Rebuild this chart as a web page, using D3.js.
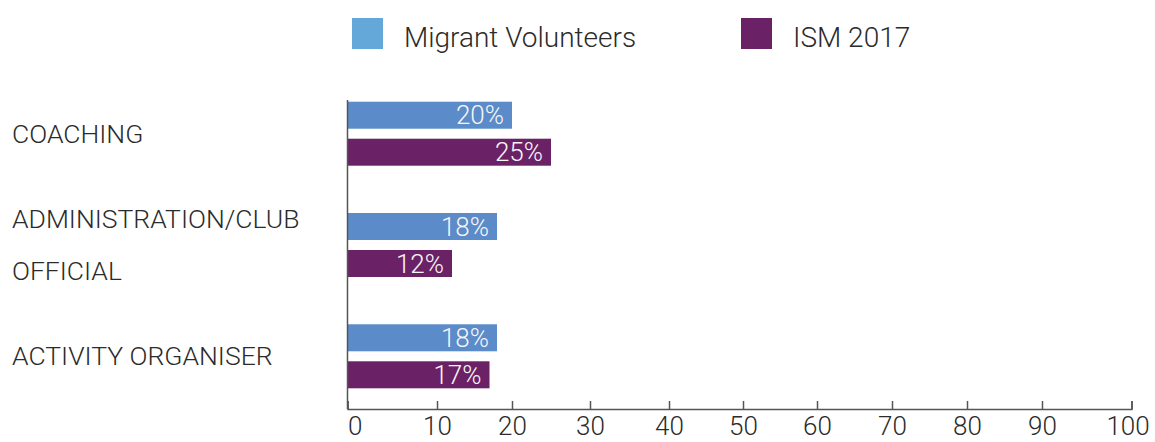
<!DOCTYPE html>
<html>
<head>
<meta charset="utf-8">
<script src="https://cdn.jsdelivr.net/npm/d3@7"></script>
<style>
  body { margin: 0; background: #fff; }
  text { font-family: Roboto, "Liberation Sans", sans-serif; font-weight: 300; }
  .axis path, .axis line { stroke: #555; stroke-width: 1.5; }
  .axis text { fill: #2b2b2b; font-size: 26px; }
</style>
</head>
<body>
<div id="chart"></div>
<script>

// data
var categories = ["COACHING", "ADMINISTRATION/CLUB OFFICIAL", "ACTIVITY ORGANISER"];
var categoryLines = [["COACHING"], ["ADMINISTRATION/CLUB", "OFFICIAL"], ["ACTIVITY ORGANISER"]];
var seriesNames = ["Migrant Volunteers", "ISM 2017"];
var migrantValues = [20, 18, 18];
var ismValues = [25, 12, 17];
var xTicks = [0, 10, 20, 30, 40, 50, 60, 70, 80, 90, 100];

var width = 1155;
var height = 442;

var barColors = ["#5b8bc9", "#6b2166"];
var legendColors = ["#64a8da", "#6b2166"];

var svg = d3.select("#chart")
  .append("svg")
    .attr("width", width)
    .attr("height", height);

var axisY = 409;

// the original axis is not evenly spaced, so follow its ticks
var x = d3.scaleLinear()
    .domain(xTicks)
    .range([347.5, 437, 512, 590, 669, 743, 817, 892, 967, 1042, 1131.5]);

var y0 = d3.scaleBand()
    .domain(categories)
    .range([101.7, 388.3])
    .paddingInner(0.425)
    .paddingOuter(0);

var y1 = d3.scaleBand()
    .domain(seriesNames)
    .range([0, y0.bandwidth()])
    .paddingInner(10 / 37);

var rows = categories.map(function(c, i) {
  return {cat: c, lines: categoryLines[i], values: [migrantValues[i], ismValues[i]]};
});

// category labels
var lineGap = 52;
svg.append("g").selectAll("text")
  .data(rows)
  .join("text")
    .attr("x", 12)
    .attr("fill", "#2b2b2b")
    .style("font-size", "26.5px")
    .each(function(d) {
      var mid = y0(d.cat) + y0.bandwidth() / 2 + 9;
      var n = d.lines.length;
      d3.select(this).selectAll("tspan")
        .data(d.lines)
        .join("tspan")
          .attr("x", 12)
          .attr("y", function(l, k) { return mid + (k - (n - 1) / 2) * lineGap; })
          .text(function(l) { return l; });
    });

// bars
var group = svg.append("g").selectAll("g")
  .data(rows)
  .join("g")
    .attr("transform", function(d) { return "translate(0," + y0(d.cat) + ")"; });

var cells = group.selectAll("g")
  .data(function(d) {
    return d.values.map(function(v, j) { return {name: seriesNames[j], value: v, j: j}; });
  })
  .join("g");

cells.append("rect")
    .attr("x", x(0))
    .attr("y", function(d) { return y1(d.name); })
    .attr("width", function(d) { return x(d.value) - x(0); })
    .attr("height", y1.bandwidth())
    .attr("fill", function(d) { return barColors[d.j]; });

cells.append("text")
    .attr("x", function(d) { return x(d.value) - 8; })
    .attr("y", function(d) { return y1(d.name) + y1.bandwidth() / 2; })
    .attr("dy", "0.35em")
    .attr("text-anchor", "end")
    .attr("fill", "#f6f6f6")
    .style("font-size", "26px")
    .text(function(d) { return d.value + "%"; });

// x axis
var xAxis = svg.append("g")
    .attr("class", "axis")
    .attr("transform", "translate(0," + axisY + ")")
    .call(d3.axisBottom(x)
      .tickValues(xTicks)
      .tickSizeInner(-8)
      .tickSizeOuter(-8)
      .tickPadding(8));

xAxis.selectAll(".tick text")
    .filter(function(d) { return d === 0; })
    .attr("text-anchor", "start")
    .attr("x", 0);
xAxis.selectAll(".tick text")
    .filter(function(d) { return d === 100; })
    .attr("dx", -4);

// vertical base line
svg.append("line")
    .attr("x1", x(0)).attr("x2", x(0))
    .attr("y1", 100).attr("y2", axisY)
    .attr("stroke", "#555")
    .attr("stroke-width", 1.5);

// legend
var legendX = [352, 741];
var legend = svg.append("g").selectAll("g")
  .data(seriesNames)
  .join("g")
    .attr("transform", function(d, i) { return "translate(" + legendX[i] + ",18)"; });

legend.append("rect")
    .attr("width", 31)
    .attr("height", 31)
    .attr("fill", function(d, i) { return legendColors[i]; });

legend.append("text")
    .attr("x", 52)
    .attr("y", 29)
    .attr("fill", "#2b2b2b")
    .style("font-size", "28px")
    .text(function(d) { return d; });

</script>
</body>
</html>
